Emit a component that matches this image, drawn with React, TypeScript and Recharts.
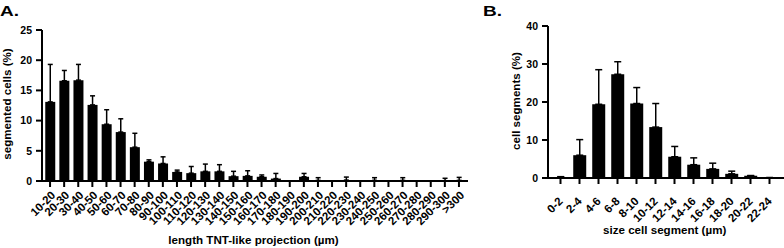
import React from 'react';
import { BarChart, Bar, XAxis, YAxis, ErrorBar } from 'recharts';

const catsA = ['10-20','20-30','30-40','40-50','50-60','60-70','70-80','80-90','90-100','100-110','110-120','120-130','130-140','140-150','150-160','160-170','170-180','180-190','190-200','200-210','210-220','220-230','230-240','240-250','250-260','260-270','270-280','280-290','290-300','>300'];
const valsA = [13.1,16.6,16.7,12.6,9.4,8.1,5.6,3.2,2.9,1.5,1.3,1.6,1.6,0.8,0.85,0.7,0.4,0,0.7,0.1,0,0.15,0,0.1,0,0.1,0,0,0.05,0.1];
const errA = [6.2,1.7,2.6,1.5,2.4,2.2,2.3,0.3,1.1,0.3,1.1,1.2,1.1,0.8,0.85,0.3,0.85,0,0.55,0.45,0,0.5,0,0.45,0.2,0.45,0.3,0.2,0.4,0.5];
const ticksA = [0,5,10,15,20,25];

const catsB = ['0-2','2-4','4-6','6-8','8-10','10-12','12-14','14-16','16-18','18-20','20-22','22-24'];
const valsB = [0.25,6.0,19.4,27.3,19.6,13.4,5.6,3.5,2.4,1.1,0.6,0.1];
const errB = [0.1,4.1,9.1,3.3,4.2,6.2,2.7,1.8,1.5,0.7,0.05,0];
const ticksB = [0,10,20,30,40];

const dataA = catsA.map((c, i) => ({ cat: c, v: valsA[i], e: [0, errA[i]] }));
const dataB = catsB.map((c, i) => ({ cat: c, v: valsB[i], e: [0, errB[i]] }));

const FONT = '"Liberation Sans", Arial, Helvetica, sans-serif';

const makeTick = (dx: number, dy: number) => (props: any) => {
  const { x, y, payload } = props;
  const ax = x + dx;
  const ay = y + dy;
  return (
    <text x={ax} y={ay} transform={`rotate(-45 ${ax} ${ay})`} textAnchor="end"
      fontSize={11.5} fontWeight="bold" fill="#000" fontFamily={FONT}>
      {payload.value}
    </text>
  );
};

const yTick = { fontSize: 10.5, fontWeight: 'bold', fill: '#000', fontFamily: FONT } as any;
const axisLine = { stroke: '#000', strokeWidth: 2 };
const tickLine = { stroke: '#000', strokeWidth: 2 };

export default function App() {
  return (
    <div style={{ position: 'absolute', left: 0, top: 0, width: 784, height: 248, background: '#fff', overflow: 'hidden' }}>
      <div style={{ position: 'absolute', left: 0, top: 0 }}>
        <BarChart width={468} height={248} data={dataA} margin={{ top: 30, right: 0, bottom: 0, left: 0 }} barCategoryGap="16%">
          <XAxis dataKey="cat" interval={0} height={67} padding={{ left: 1, right: 2 }}
            axisLine={axisLine} tickLine={tickLine} tickSize={6} tickMargin={2}
            tick={makeTick(6, 7)} />
          <YAxis width={42} domain={[0, 25]} ticks={ticksA} interval={0}
            axisLine={axisLine} tickLine={tickLine} tickSize={6} tickMargin={4} tick={yTick} />
          <Bar dataKey="v" fill="#000" isAnimationActive={false}>
            <ErrorBar dataKey="e" width={2.5} stroke="#000" strokeWidth={1.5} direction="y" isAnimationActive={false} />
          </Bar>
        </BarChart>
      </div>
      <div style={{ position: 'absolute', left: 500, top: 0 }}>
        <BarChart width={284} height={248} data={dataB} margin={{ top: 26, right: 0, bottom: 0, left: 0 }} barCategoryGap="17%">
          <XAxis dataKey="cat" interval={0} height={70} padding={{ left: 3, right: 5 }}
            axisLine={axisLine} tickLine={tickLine} tickSize={6} tickMargin={2}
            tick={makeTick(3, 16)} />
          <YAxis width={48} domain={[0, 40]} ticks={ticksB} interval={0}
            axisLine={axisLine} tickLine={tickLine} tickSize={6} tickMargin={4} tick={yTick} />
          <Bar dataKey="v" fill="#000" isAnimationActive={false}>
            <ErrorBar dataKey="e" width={3.5} stroke="#000" strokeWidth={1.5} direction="y" isAnimationActive={false} />
          </Bar>
        </BarChart>
      </div>
      <svg width={784} height={248} style={{ position: 'absolute', left: 0, top: 0, pointerEvents: 'none' }}>
        <g fontFamily={FONT} fontWeight="bold" fill="#000">
          <text x={0} y={15.5} fontSize={15} textLength={19} lengthAdjust="spacingAndGlyphs">A.</text>
          <text x={483} y={15.5} fontSize={15} textLength={19} lengthAdjust="spacingAndGlyphs">B.</text>
          <text x={253.5} y={243.5} fontSize={11.6} textAnchor="middle">length TNT-like projection (µm)</text>
          <text x={664.7} y={234} fontSize={11.6} textAnchor="middle">size cell segment (µm)</text>
          <text x={10.7} y={104} fontSize={11.6} textAnchor="middle" transform="rotate(-90 10.7 104)">segmented cells (%)</text>
          <text x={519.5} y={101} fontSize={11.6} textAnchor="middle" transform="rotate(-90 519.5 101)">cell segments (%)</text>
        </g>
      </svg>
    </div>
  );
}
